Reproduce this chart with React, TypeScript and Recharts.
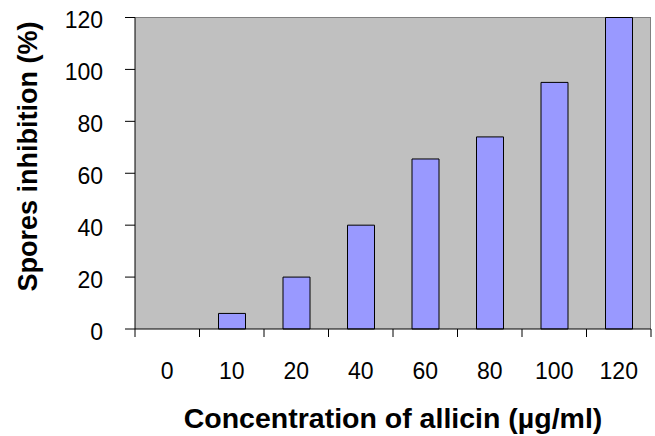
import React from 'react';
import { BarChart, Bar, XAxis, YAxis, CartesianGrid, Label } from 'recharts';

const categories = ['0', '10', '20', '40', '60', '80', '100', '120'];
const inhibition = [0, 6, 20, 40, 65.5, 74, 95, 120];
const yTicks = [0, 20, 40, 60, 80, 100, 120];

const data = categories.map((c, i) => ({ conc: c, value: inhibition[i] }));

const W = 655;
const H = 436;
const MARGIN = { top: 17.5, right: 4, bottom: 0, left: 0 };
const Y_W = 135;
const X_H = 107;
const PLOT_BOTTOM = H - MARGIN.bottom - X_H;
const PLOT_LEFT = MARGIN.left + Y_W;
const PLOT_RIGHT = W - MARGIN.right;
const BAND = (PLOT_RIGHT - PLOT_LEFT) / categories.length;
const FONT = '"Liberation Sans", Arial, Helvetica, sans-serif';

const XTick = (props: any) => {
  const { x, payload } = props;
  const idx = categories.indexOf(String(payload.value));
  const half = BAND / 2;
  return (
    <g>
      <line x1={x - half} x2={x - half} y1={PLOT_BOTTOM} y2={PLOT_BOTTOM + 8} stroke="#000" />
      {idx === categories.length - 1 && (
        <line x1={x + half} x2={x + half} y1={PLOT_BOTTOM} y2={PLOT_BOTTOM + 8} stroke="#000" />
      )}
      <text x={x} y={PLOT_BOTTOM + 50} textAnchor="middle" fontSize={23} fontFamily={FONT} fill="#000">
        {payload.value}
      </text>
    </g>
  );
};

const YTick = (props: any) => {
  const { y, payload } = props;
  return (
    <text x={PLOT_LEFT - 32} y={y + 2.5} dy="0.355em" textAnchor="end" fontSize={23} fontFamily={FONT} fill="#000">
      {payload.value}
    </text>
  );
};

export default function App() {
  return (
    <div style={{ width: W, height: H }}>
      <style>{`body{margin:0}`}</style>
      <BarChart width={W} height={H} data={data} margin={MARGIN} barSize={27}>
        <CartesianGrid
          fill="#c0c0c0"
          stroke="#808080"
          horizontalPoints={[MARGIN.top]}
          verticalPoints={[PLOT_RIGHT - 0.5]}
        />
        <XAxis
          dataKey="conc"
          height={X_H}
          axisLine={{ stroke: '#000' }}
          tickLine={false}
          tick={<XTick />}
          interval={0}
        >
          <Label
            content={() => (
              <text
                x={(PLOT_LEFT + PLOT_RIGHT) / 2}
                y={428}
                textAnchor="middle"
                fontSize={28.5}
                fontWeight="bold"
                fontFamily={FONT}
                fill="#000"
              >
                Concentration of allicin (µg/ml)
              </text>
            )}
          />
        </XAxis>
        <YAxis
          width={Y_W}
          domain={[0, 120]}
          ticks={yTicks}
          interval={0}
          axisLine={{ stroke: '#000' }}
          tickLine={{ stroke: '#000' }}
          tickSize={10}
          tick={<YTick />}
        >
          <Label
            content={() => (
              <text
                transform="translate(37,156.5) rotate(-90)"
                textAnchor="middle"
                fontSize={27}
                fontWeight="bold"
                fontFamily={FONT}
                fill="#000"
              >
                Spores inhibition (%)
              </text>
            )}
          />
        </YAxis>
        <Bar dataKey="value" fill="#9999ff" stroke="#000" strokeWidth={1} isAnimationActive={false} />
      </BarChart>
    </div>
  );
}
